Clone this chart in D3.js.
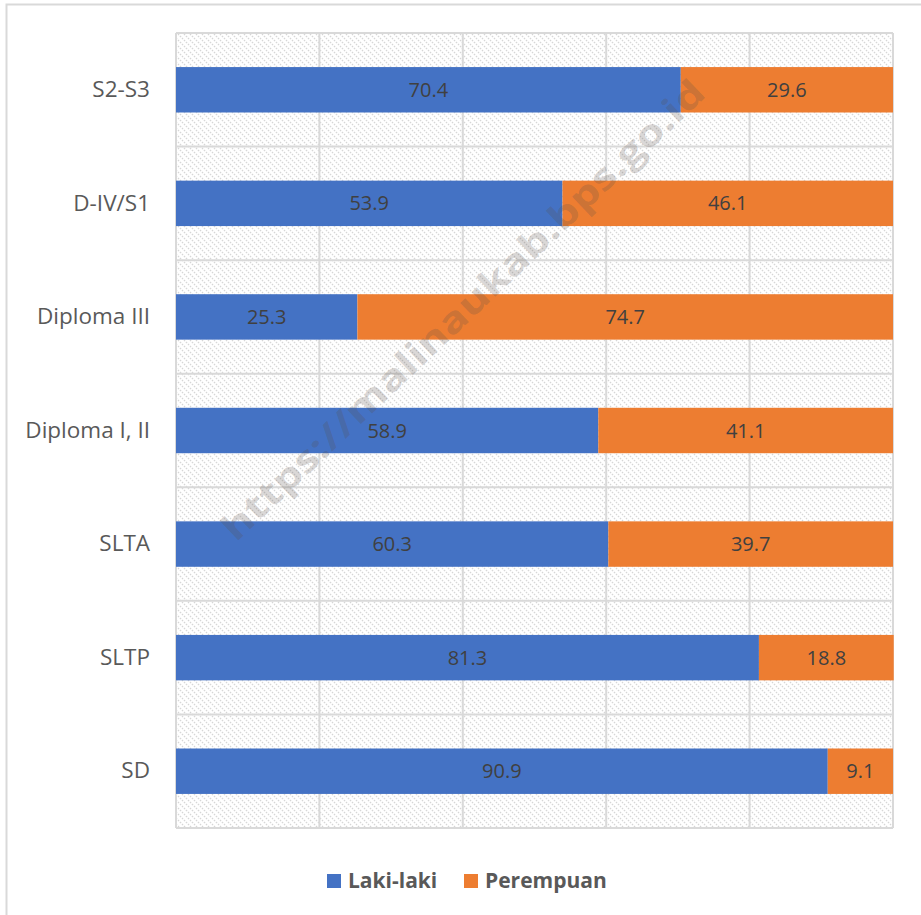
<!DOCTYPE html>
<html>
<head>
<meta charset="utf-8">
<script src="https://cdn.jsdelivr.net/npm/d3@7"></script>
<style>
  body { margin: 0; background: #fff; }
  svg { display: block; font-family: "Open Sans", "Liberation Sans", sans-serif; }
</style>
</head>
<body>
<svg id="chart" width="921" height="915"></svg>
<script>
// categories, top to bottom
var categories = ["S2-S3", "D-IV/S1", "Diploma III", "Diploma I, II", "SLTA", "SLTP", "SD"];
var laki = [70.4, 53.9, 25.3, 58.9, 60.3, 81.3, 90.9];
var perempuan = [29.6, 46.1, 74.7, 41.1, 39.7, 18.8, 9.1];
var seriesNames = ["Laki-laki", "Perempuan"];
var seriesColors = ["#4472c4", "#ed7d31"];
var xTicks = [0, 20, 40, 60, 80, 100];

var svg = d3.select("#chart");

var margin = {left: 176, right: 28, top: 33, bottom: 87};
var W = 921, H = 915;

// outer chart border (only top/left visible in the picture)
svg.append("rect")
  .attr("x", 6.5).attr("y", 4.5)
  .attr("width", W).attr("height", H)
  .attr("fill", "none").attr("stroke", "#d9d9d9").attr("stroke-width", 2);

var x = d3.scaleLinear().domain([0, 100]).range([margin.left, W - margin.right]);
var y = d3.scaleBand().domain(categories).range([margin.top, H - margin.bottom]).paddingInner(0.6).paddingOuter(0.3);
var yBand = d3.scaleBand().domain(categories).range([margin.top, H - margin.bottom]);

// hatch pattern
var defs = svg.append("defs");
var pat = defs.append("pattern")
  .attr("id", "hatch").attr("patternUnits", "userSpaceOnUse")
  .attr("width", 6).attr("height", 6);
pat.append("rect").attr("width", 6).attr("height", 6).attr("fill", "#fff");
pat.append("path")
  .attr("d", "M0,0 L6,6 M-1,5 L1,7 M5,-1 L7,1")
  .attr("stroke", "#d6d6d6").attr("stroke-width", 1.2).attr("stroke-dasharray", "1.6,1.2");

svg.append("rect")
  .attr("x", x(0)).attr("y", margin.top)
  .attr("width", x(100) - x(0)).attr("height", H - margin.bottom - margin.top)
  .attr("fill", "url(#hatch)");

// gridlines
var grid = svg.append("g").attr("stroke", "#d9d9d9").attr("stroke-width", 2);
grid.selectAll(".vg").data(xTicks).join("line")
  .attr("x1", d => x(d)).attr("x2", d => x(d))
  .attr("y1", margin.top).attr("y2", H - margin.bottom);
var hLines = categories.map(c => yBand(c)).concat([H - margin.bottom]);
grid.selectAll(".hg").data(hLines).join("line")
  .attr("x1", x(0)).attr("x2", x(100))
  .attr("y1", d => d).attr("y2", d => d);

// stacked bars
var rows = categories.map(function(c, i) {
  return {cat: c, "Laki-laki": laki[i], "Perempuan": perempuan[i]};
});
var stacked = d3.stack().keys(seriesNames)(rows);

var layers = svg.selectAll(".layer").data(stacked).join("g")
  .attr("fill", (d, i) => seriesColors[i]);

layers.selectAll("rect").data(d => d).join("rect")
  .attr("x", d => x(d[0]))
  .attr("width", d => x(d[1]) - x(d[0]))
  .attr("y", d => y(d.data.cat))
  .attr("height", y.bandwidth());

layers.selectAll("text").data(d => d.map(v => ({v: v, key: d.key}))).join("text")
  .attr("x", d => (x(d.v[0]) + x(d.v[1])) / 2)
  .attr("y", d => y(d.v.data.cat) + y.bandwidth() / 2)
  .attr("dy", "0.35em")
  .attr("text-anchor", "middle")
  .attr("fill", "#404040")
  .attr("font-size", 20)
  .text(d => d.v.data[d.key].toFixed(1));

// category axis
var yAxis = svg.append("g")
  .attr("transform", "translate(" + (margin.left) + ",0)")
  .call(d3.axisLeft(yBand).tickSize(0).tickPadding(26));
yAxis.select(".domain").remove();
yAxis.selectAll("text").attr("font-size", 22.5).attr("fill", "#595959")
  .attr("font-family", "\"Open Sans\", sans-serif");

// watermark
svg.append("text")
  .attr("transform", "translate(463,310) rotate(-43.5)")
  .attr("text-anchor", "middle")
  .attr("dy", "0.35em")
  .attr("font-size", 36).attr("font-weight", "bold")
  .attr("fill", "rgba(90,80,75,0.24)")
  .attr("textLength", 650).attr("lengthAdjust", "spacingAndGlyphs")
  .text("https://malinaukab.bps.go.id");

// legend
var legendX = [327, 464];
var legend = svg.selectAll(".leg").data(seriesNames).join("g")
  .attr("transform", (d, i) => "translate(" + legendX[i] + ",874)");
legend.append("rect").attr("width", 14).attr("height", 14)
  .attr("fill", (d, i) => seriesColors[i]);
legend.append("text")
  .attr("x", 21).attr("y", 7).attr("dy", "0.35em")
  .attr("font-size", 21).attr("font-weight", "bold").attr("fill", "#595959")
  .text(d => d);
</script>
</body>
</html>
